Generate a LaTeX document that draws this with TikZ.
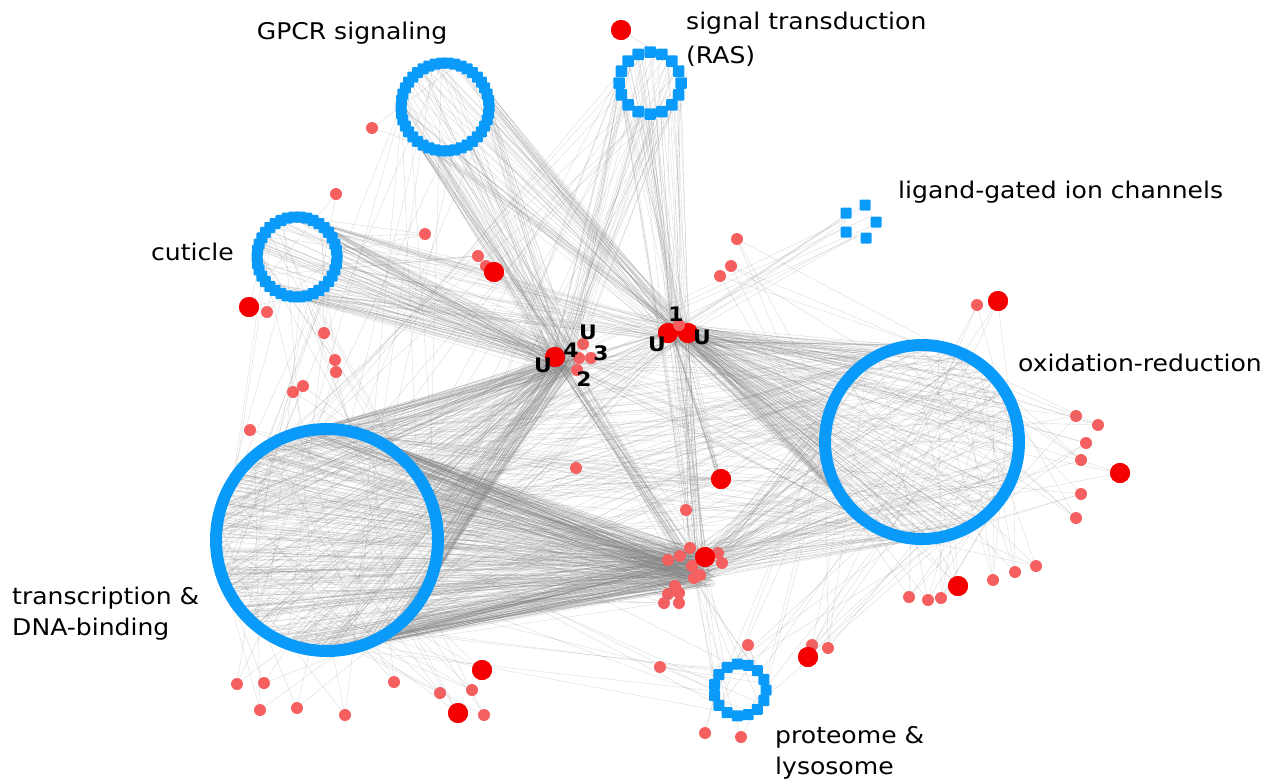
\documentclass[tikz,border=0pt]{standalone}
\usepackage{fontspec}
\setmainfont[FakeStretch=1.09]{DejaVu Sans}
\usetikzlibrary{calc}
\definecolor{netblue}{RGB}{10,155,250}
\definecolor{bigred}{RGB}{245,0,0}
\definecolor{smallred}{RGB}{245,95,95}
\definecolor{edgegray}{RGB}{125,125,125}
\tikzset{
 edge/.style={draw=edgegray, line width=0.35pt, opacity=0.3},
 sq/.style={fill=netblue, minimum size=10pt, inner sep=0pt, rounded corners=1pt},
 bigdot/.style={circle, fill=bigred, minimum size=20pt, inner sep=0pt},
 smalldot/.style={circle, fill=smallred, minimum size=12pt, inner sep=0pt},
 lab/.style={font=\fontsize{23}{27}\selectfont, anchor=west, inner sep=0pt},
 num/.style={font=\bfseries\fontsize{20}{22}\selectfont, inner sep=0pt},
 ring/.style={draw=netblue, line width=12pt},
}
% n lines from random points of a ring to a target
\newcommand\edgebundle[5]{%
 \foreach \k in {1,...,#3}{%
   \pgfmathsetmacro\aa{rnd*360}%
   \pgfmathsetmacro\dx{rand*#5}%
   \pgfmathsetmacro\dy{rand*#5}%
   \draw[edge] ($(#1)+(\aa:#2)$) -- ($(#4)+(\dx,\dy)$);
 }}
% n lines between random points of two rings
\newcommand\ringbundle[5]{%
 \foreach \k in {1,...,#5}{%
   \pgfmathsetmacro\aa{rnd*360}%
   \pgfmathsetmacro\bb{rnd*360}%
   \draw[edge] ($(#1)+(\aa:#2)$) -- ($(#3)+(\bb:#4)$);
 }}
\begin{document}
\begin{tikzpicture}[x=1pt,y=-1pt]
\useasboundingbox (0,0) rectangle (1273,780);
\pgfmathsetseed{7}
% ring centres and hubs
\coordinate (TR) at (327,540);
\coordinate (OX) at (922,442);
\coordinate (GP) at (445,107);
\coordinate (RA) at (650,83);
\coordinate (CU) at (297,257);
\coordinate (PR) at (740,690);
\coordinate (LG) at (860,222);
\coordinate (H4) at (565,362);
\coordinate (H1) at (680,333);
\coordinate (C) at (698,568);
\coordinate (M) at (721,479);

% ---------- edges ----------
\edgebundle{TR}{111}{420}{C}{18}
\edgebundle{TR}{111}{170}{H4}{12}
\edgebundle{TR}{111}{30}{H1}{10}
\edgebundle{TR}{111}{15}{M}{5}
\ringbundle{TR}{111}{OX}{97}{90}
\edgebundle{OX}{97}{180}{H1}{10}
\edgebundle{OX}{97}{70}{C}{15}
\edgebundle{OX}{97}{20}{H4}{10}
\edgebundle{GP}{44}{60}{H4}{14}
\edgebundle{GP}{44}{55}{H1}{12}
\ringbundle{GP}{44}{TR}{111}{12}
\edgebundle{RA}{31}{30}{H4}{12}
\edgebundle{RA}{31}{35}{H1}{10}
\ringbundle{RA}{31}{TR}{111}{16}
\edgebundle{RA}{31}{10}{C}{12}
\edgebundle{CU}{40}{90}{H4}{12}
\edgebundle{CU}{40}{30}{H1}{10}
\ringbundle{CU}{40}{TR}{111}{18}
\edgebundle{LG}{14}{7}{H1}{8}
\edgebundle{LG}{14}{4}{H4}{8}
\ringbundle{PR}{25}{TR}{111}{10}
\ringbundle{PR}{25}{OX}{97}{12}
\edgebundle{PR}{25}{10}{C}{12}
\edgebundle{H1}{8}{18}{C}{12}
\edgebundle{H4}{8}{30}{C}{14}
\edgebundle{H1}{8}{12}{M}{3}

% leaves: small red nodes
\foreach \x/\y/\rg/\rr/\n [count=\i] in {
 372/128/GP/44/2, 336/194/CU/40/2, 425/234/CU/40/3, 478/256/CU/40/3,
 486/266/CU/40/2, 267/312/CU/40/2, 324/333/CU/40/2, 335/360/CU/40/2,
 336/372/TR/111/2, 303/386/TR/111/2, 293/392/TR/111/2, 250/430/TR/111/2,
 737/239/OX/97/3, 731/266/OX/97/3, 720/276/OX/97/2, 977/305/OX/97/3,
 1076/416/OX/97/4, 1098/425/OX/97/4, 1086/443/OX/97/4, 1081/460/OX/97/4,
 1081/494/OX/97/4, 1076/518/OX/97/4, 576/468/TR/111/2, 686/510/OX/97/2,
 909/597/OX/97/4, 928/600/OX/97/4, 941/598/OX/97/4, 993/580/OX/97/4,
 1015/572/OX/97/4, 1036/566/OX/97/4, 812/645/OX/97/3, 828/648/OX/97/3,
 748/645/PR/25/3, 660/667/PR/25/3, 705/733/PR/25/2, 741/737/PR/25/2,
 237/684/TR/111/3, 264/683/TR/111/3, 260/710/TR/111/3, 297/708/TR/111/3,
 345/715/TR/111/3, 394/682/TR/111/3, 440/693/TR/111/3, 472/690/TR/111/3,
 484/715/TR/111/3,
 690/548/TR/111/3, 680/556/TR/111/3, 668/560/TR/111/3, 692/566/TR/111/3,
 700/575/OX/97/3, 718/553/OX/97/3, 722/563/OX/97/3, 694/578/TR/111/3,
 675/586/TR/111/3, 668/594/TR/111/3, 679/593/TR/111/3, 664/603/TR/111/3,
 679/603/TR/111/3,
 583/344/CU/40/3, 579/358/TR/111/3, 591/358/GP/44/3, 577/370/TR/111/3,
 679/325/OX/97/3}{
  \node[smalldot] (s\i) at (\x,\y) {};
  \foreach \m in {1,...,\n}{%
    \pgfmathsetmacro\aa{rnd*360}%
    \draw[edge] (s\i) -- ($(\rg)+(\aa:\rr)$);
  }
}
% big red nodes
\foreach \x/\y/\rg/\rr/\n [count=\i] in {
 621/30/RA/31/1, 494/272/CU/40/3, 249/307/CU/40/2, 998/301/OX/97/3,
 1120/473/OX/97/3, 721/479/OX/97/5, 705/557/OX/97/6, 958/586/OX/97/4,
 808/657/OX/97/4, 482/670/TR/111/3, 458/713/TR/111/3,
 555/357/TR/111/4, 668/333/TR/111/4, 688/333/OX/97/4}{
  \node[bigdot] (b\i) at (\x,\y) {};
  \foreach \m in {1,...,\n}{%
    \pgfmathsetmacro\aa{rnd*360}%
    \draw[edge] (b\i) -- ($(\rg)+(\aa:\rr)$);
  }
}
\draw[edge] (b14) -- (b8);
\draw[edge] (b13) -- (b6);
\draw[edge] (b13) -- (b7);
\draw[edge] (b12) -- (b7);

% ---------- rings ----------
\draw[ring] (TR) circle[radius=111];
\draw[ring] (OX) circle[radius=97];
\foreach \i in {1,...,42} \node[sq, minimum size=11pt] (gp\i) at ($(GP)+(\i*360/42:44)$) {};
\foreach \i in {1,...,38} \node[sq, minimum size=11pt] (cu\i) at ($(CU)+(\i*360/38:40)$) {};
\foreach \i in {1,...,16} \node[sq, minimum size=11.5pt] (ra\i) at ($(RA)+(\i*360/16:31)$) {};
\foreach \i in {1,...,15} \node[sq, minimum size=11pt] (pr\i) at ($(PR)+(\i*360/15:26)$) {};
\foreach \x/\y [count=\i] in {846/213, 865/205, 876/222, 846/232, 866/238}
  \node[sq, minimum size=11pt] (lg\i) at (\x,\y) {};

% redraw the dots on top
\foreach \x/\y [count=\i] in {621/30, 494/272, 249/307, 998/301, 1120/473, 721/479,
  705/557, 958/586, 808/657, 482/670, 458/713, 555/357, 668/333, 688/333}
  \node[bigdot] (bt\i) at (\x,\y) {};
\node[smalldot] (st1) at (679,325) {};

% ---------- hub labels ----------
\node[num] (u1) at (543,365) {U};
\node[num] (n4) at (571,350) {4};
\node[num] (u2) at (588,332) {U};
\node[num] (n3) at (601,353) {3};
\node[num] (n2) at (584,379) {2};
\node[num] (n1) at (676,314) {1};
\node[num] (u3) at (657,344) {U};
\node[num] (u4) at (702,337) {U};

% ---------- cluster labels ----------
\node[lab, anchor=center] (tGP) at (352,33) {GPCR signaling};
\node[lab] (tRA1) at (686,23) {signal transduction};
\node[lab] (tRA2) at (686,56) {(RAS)};
\node[lab] (tLG) at (898,192) {ligand-gated ion channels};
\node[lab] (tCU) at (151,252) {cuticle};
\node[lab] (tOX) at (1018,363) {oxidation-reduction};
\node[lab] (tTR1) at (12,598) {transcription \&};
\node[lab] (tTR2) at (12,629) {DNA-binding};
\node[lab] (tPR1) at (775,737) {proteome \&};
\node[lab] (tPR2) at (775,768) {lysosome};
\end{tikzpicture}
\end{document}
